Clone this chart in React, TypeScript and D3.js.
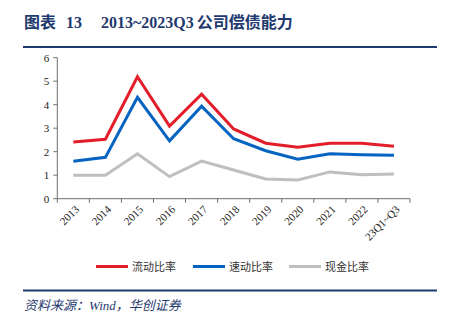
import React from "react";
import * as d3 from "d3";

const categories = ["2013","2014","2015","2016","2017","2018","2019","2020","2021","2022","23Q1~Q3"];
const currentRatio = [2.41,2.53,5.19,3.09,4.45,2.97,2.36,2.19,2.36,2.36,2.23];
const quickRatio = [1.59,1.76,4.31,2.46,3.94,2.55,2.04,1.68,1.91,1.87,1.85];
const cashRatio = [1.0,1.0,1.91,0.94,1.60,1.22,0.84,0.80,1.14,1.02,1.05];
const yTicks = [0,1,2,3,4,5,6];
const seriesNames = ["流动比率","速动比率","现金比率"];
const seriesColors = ["#E31E2A","#0563C1","#BFBFBF"];

export default function App() {
  const W = 454, H = 322;
  const x0 = 57.3, x1 = 410, yTop = 57.7, yBot = 198.7;
  const band = d3.scaleBand<string>().domain(categories).range([x0, x1]).padding(0);
  const y = d3.scaleLinear().domain([0, 6]).range([yBot, yTop]);
  const cx = (c: string) => (band(c) as number) + band.bandwidth() / 2;
  const line = d3.line<number>().x((_, i) => cx(categories[i])).y(d => y(d));
  const series = [currentRatio, quickRatio, cashRatio];
  const navy = "#1F3A6E";
  const serif = "'Liberation Serif', 'Times New Roman', serif";
  const tickX = categories.map(c => band(c) as number).concat([x1]);
  const legendX = [96, 193, 289];
  return (
    <svg width={W} height={H} style={{ position: "absolute", left: 0, top: 0 }}>
      <rect width={W} height={H} fill="#fff" />
      <text x={24} y={28} fill={navy} fontSize={16} fontWeight="bold" fontFamily="'Noto Sans CJK SC', sans-serif">
        图表
        <tspan fontFamily={serif} dx={10}>13</tspan>
        <tspan fontFamily={serif} dx={19}>2013~2023Q3</tspan>
        <tspan dx={3}>公司偿债能力</tspan>
      </text>
      <line x1={23} x2={437} y1={47} y2={47} stroke={navy} strokeWidth={2} />
      {/* axes */}
      <line x1={x0} x2={x0} y1={yTop} y2={yBot} stroke="#6e6e6e" strokeWidth={1} />
      <line x1={x0} x2={x1} y1={yBot} y2={yBot} stroke="#6e6e6e" strokeWidth={1} />
      {yTicks.map(t => (
        <g key={t}>
          <line x1={x0 - 4} x2={x0} y1={y(t)} y2={y(t)} stroke="#6e6e6e" />
          <text x={x0 - 8} y={y(t) + 4} textAnchor="end" fontSize={11} fontFamily={serif} fill="#222">{t}</text>
        </g>
      ))}
      {tickX.map((t, i) => (
        <line key={i} x1={t} x2={t} y1={yBot} y2={yBot + 4} stroke="#6e6e6e" />
      ))}
      {categories.map(c => (
        <text key={c} transform={`translate(${cx(c) + 1},${yBot + 6}) rotate(-45)`} textAnchor="end" dy="0.7em"
          fontSize={11} fontFamily={serif} fill="#222">{c}</text>
      ))}
      {series.map((s, i) => (
        <path key={i} d={line(s) as string} fill="none" stroke={seriesColors[i]} strokeWidth={3} strokeLinejoin="miter" />
      ))}
      {/* legend */}
      {seriesNames.map((n, i) => (
        <g key={n}>
          <line x1={legendX[i]} x2={legendX[i] + 32} y1={266.5} y2={266.5} stroke={seriesColors[i]} strokeWidth={3} />
          <text x={legendX[i] + 36} y={270.5} fontSize={11} fill="#333" fontFamily="'Noto Sans CJK SC', sans-serif">{n}</text>
        </g>
      ))}
      <line x1={23} x2={437} y1={290.5} y2={290.5} stroke={navy} strokeWidth={2} />
      <text x={24} y={310} fill={navy} fontSize={13} fontStyle="italic" fontFamily="'Noto Sans CJK SC', sans-serif">
        资料来源：<tspan fontFamily={serif}>Wind</tspan>，华创证券
      </text>
    </svg>
  );
}
